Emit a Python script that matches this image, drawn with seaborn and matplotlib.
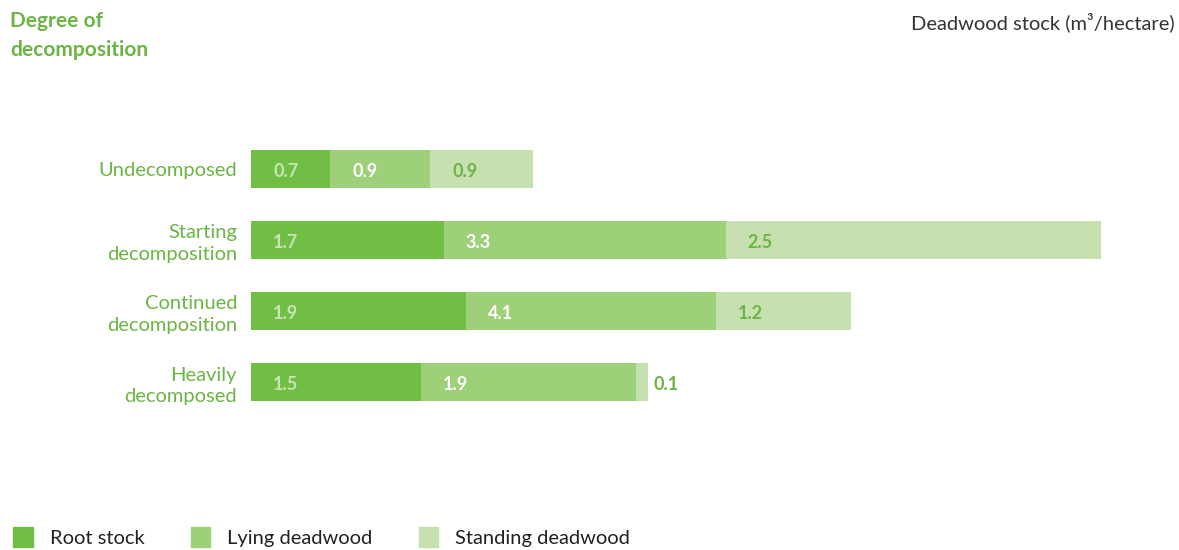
import matplotlib
matplotlib.use("Agg")
import matplotlib.pyplot as plt
import matplotlib.patches as mpatches
import numpy as np
import pandas as pd
import seaborn as sns

# categories (top to bottom)
stages = ["Undecomposed", "Starting\ndecomposition", "Continued\ndecomposition", "Heavily\ndecomposed"]
series = ["Root stock", "Lying deadwood", "Standing deadwood"]

# values as printed on the bars
root_values = [0.7, 1.7, 1.9, 1.5]
lying_values = [0.9, 3.3, 4.1, 1.9]
standing_values = [0.9, 2.5, 1.2, 0.1]

# segment lengths as drawn in the original graphic (m3/ha)
root_drawn = [0.7, 1.7, 1.9, 1.5]
lying_drawn = [0.88, 2.49, 2.2, 1.9]
standing_drawn = [0.91, 3.31, 1.19, 0.1]

colors = ["#71be45", "#9ecf79", "#c6e0b0"]
label_colors = ["#c9e4b4", "#ffffff", "#6cb443"]
green_text = "#6cb443"

sns.set_theme(style="white")
plt.rcParams["font.family"] = ["Lato", "DejaVu Sans"]

df = pd.DataFrame({
    "stage": stages,
    "root": root_drawn,
    "lying": lying_drawn,
    "standing": standing_drawn,
})
df["c1"] = df["root"]
df["c2"] = df["c1"] + df["lying"]
df["c3"] = df["c2"] + df["standing"]

fig = plt.figure(figsize=(11.79, 5.5), dpi=100)
ax = fig.add_axes([251 / 1179, 0.2409, (1101 - 251) / 1179, 0.7573 - 0.2409])

bw = 0.535
for col, color in zip(["c3", "c2", "c1"], colors[::-1]):
    sns.barplot(data=df, x=col, y="stage", orient="h", color=color,
                width=bw, saturation=1, ax=ax, linewidth=0)

ax.set_xlim(0, 7.5)
ax.set_ylim(3.5, -0.5)
ax.set_xlabel("")
ax.set_ylabel("")
ax.set_xticks([])
ax.tick_params(axis="y", length=0, pad=10)
for lbl in ax.get_yticklabels():
    lbl.set_color(green_text)
    lbl.set_fontsize(14.5)
    lbl.set_linespacing(1.3)
sns.despine(ax=ax, left=True, bottom=True)

# value labels
px = 7.5 / 850.0
starts = [np.zeros(4), df["c1"].values, df["c2"].values]
printed = [root_values, lying_values, standing_values]
drawn = [root_drawn, lying_drawn, standing_drawn]
for k in range(3):
    for i in range(4):
        x0 = starts[k][i]
        if drawn[k][i] < 0.3:
            xt = x0 + drawn[k][i] + 6 * px
        else:
            xt = x0 + 22 * px
        ax.text(xt, i + 0.03, f"{printed[k][i]:.1f}", ha="left", va="center",
                color=label_colors[k], fontsize=13, fontweight="bold")

fig.text(10 / 1179, 1 - 11 / 550, "Degree of\ndecomposition", ha="left", va="top",
         color=green_text, fontsize=15, fontweight="bold", linespacing=1.55)
fig.text(1175 / 1179, 1 - 22 / 550, "Deadwood stock (m³/hectare)", ha="right",
         va="center", color="#333333", fontsize=14.5)

handles = [mpatches.Patch(color=c, label=s) for c, s in zip(colors, series)]
fig.legend(handles=handles, loc="lower left", bbox_to_anchor=(-0.004, -0.028), ncol=3,
           frameon=False, fontsize=14.5, handlelength=0.95, handleheight=1.2,
           handletextpad=0.85, columnspacing=2.3, labelcolor="#222222")

fig.savefig("out.png", dpi=100, facecolor="white")
